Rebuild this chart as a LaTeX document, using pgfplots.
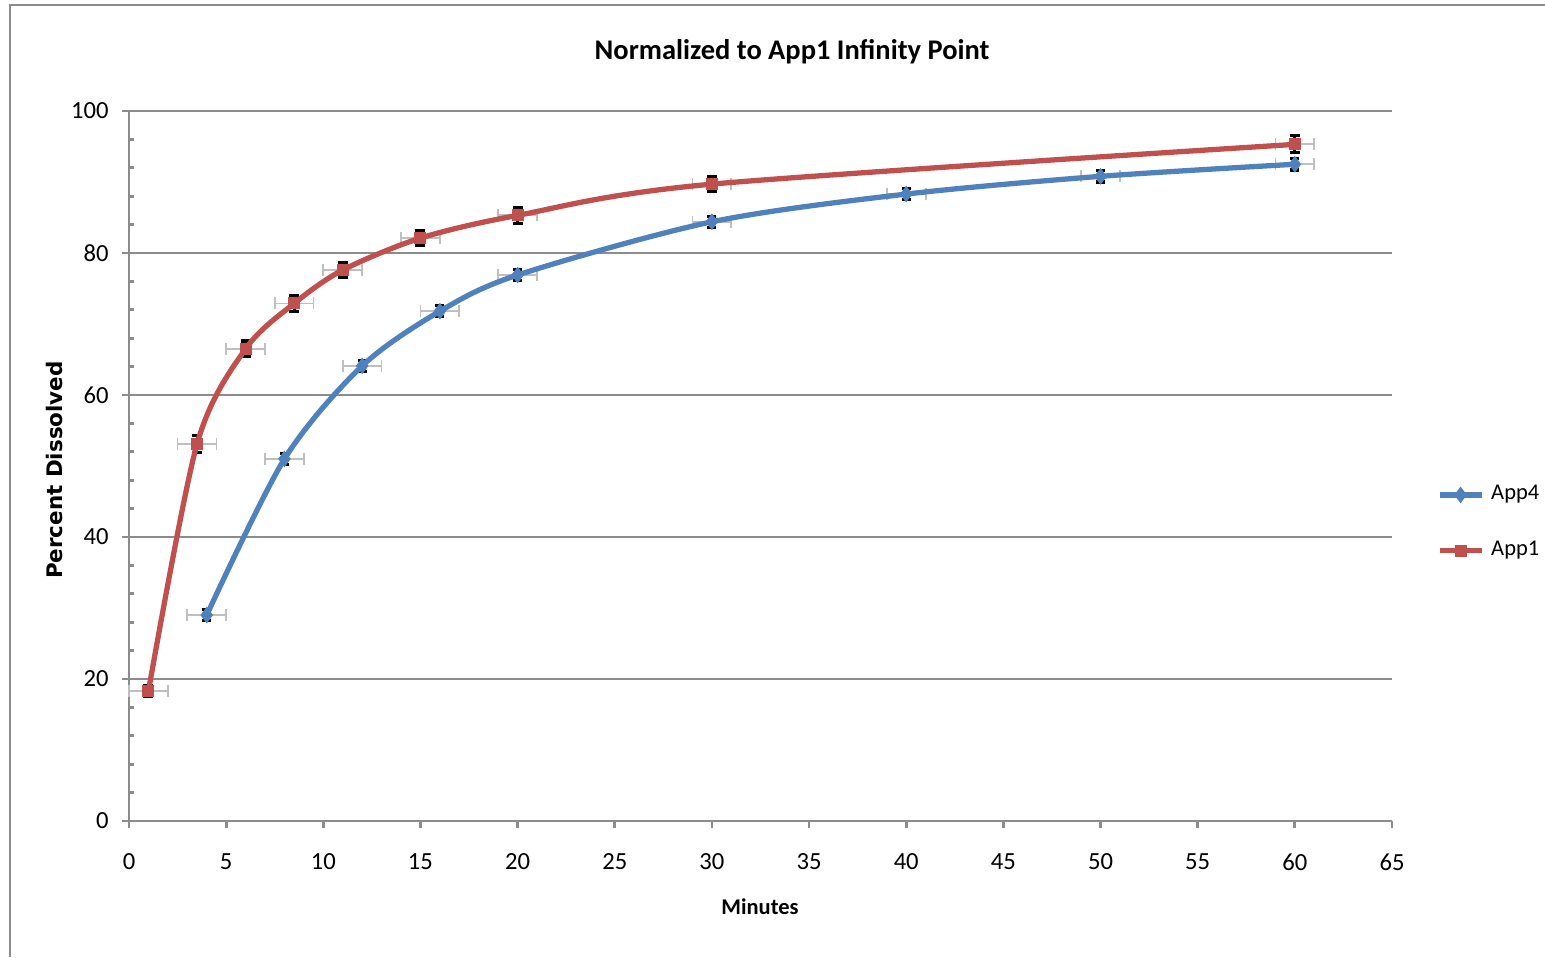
\documentclass[border=0pt]{standalone}
\usepackage{pgfplots}
\pgfplotsset{compat=1.18}
\usepackage{pgfplotstable}
\usepackage{fontspec}
\setmainfont{Carlito}
\newfontfamily\djv{DejaVu Sans}
\definecolor{xred}{HTML}{C0504D}
\definecolor{xblue}{HTML}{4F81BD}
\definecolor{gridc}{HTML}{8C8C8C}
\definecolor{errc}{HTML}{BFBFBF}

\pgfplotstableread{
x y ey ex
1 18.3 0.8 1
3.5 53.1 1.2 1
6 66.5 1.1 1
8.5 72.9 1.1 1
11 77.6 1.1 1
15 82.1 1.1 1
20 85.3 1.1 1
30 89.7 1.0 1
60 95.3 1.2 1
}\appone

\pgfplotstableread{
x y ey ex
4 29.0 0.8 1
8 51.0 0.8 1
12 64.1 0.8 1
16 71.8 0.8 1
20 76.9 0.8 1
30 84.4 0.8 1
40 88.3 0.8 1
50 90.8 0.8 1
60 92.5 0.8 1
}\appfour

\begin{document}
\begin{tikzpicture}
\path[use as bounding box] (0,0) rectangle (15.45,9.57);
\draw[gridc, line width=0.5pt] (0.10,0) -- (0.10,9.52) -- (15.45,9.52);
\begin{axis}[
 at={(1.29cm,1.36cm)}, anchor=south west, scale only axis,
 width=12.63cm, height=7.10cm,
 xmin=0, xmax=65, ymin=0, ymax=100,
 xtick={0,5,...,65}, ytick={0,20,...,100},
 minor y tick num=4,
 axis lines=left, axis line style={-, gridc, line width=0.8pt},
 tick align=outside, major tick length=0.07cm, minor tick length=0.045cm,
 tick style={gridc, line width=0.8pt},
 minor tick style={xshift=0.045cm},
 ymajorgrids, major grid style={gridc, line width=0.8pt},
 clip=false,
 tick label style={font=\fontsize{7}{8}\selectfont},
 /pgf/number format/assume math mode=true,
 xticklabel style={yshift=-0.13cm},
 yticklabel style={xshift=-0.01cm},
 legend style={at={(1.035,0.42)}, anchor=west, draw=none, fill=none,
   font=\fontsize{6.4}{7.5}\selectfont, row sep=0.22cm, inner sep=0pt},
 legend cell align=left,
 legend image code/.code={\draw[mark repeat=2,mark phase=2,#1] plot coordinates {(0cm,0cm)(0.21cm,0cm)(0.42cm,0cm)};},
]
% horizontal error bars (grey)
\addplot[forget plot, draw=none, mark=none,
  error bars/.cd, x dir=both, x explicit,
  error bar style={draw=errc, line width=0.5pt},
  error mark options={rotate=90, draw=errc, mark size=0.06cm, line width=0.5pt}]
  table[x=x, y=y, x error=ex] \appfour;
\addplot[forget plot, draw=none, mark=none,
  error bars/.cd, x dir=both, x explicit,
  error bar style={draw=errc, line width=0.5pt},
  error mark options={rotate=90, draw=errc, mark size=0.06cm, line width=0.5pt}]
  table[x=x, y=y, x error=ex] \appone;
% vertical error bars (black)
\addplot[forget plot, draw=none, mark=none,
  error bars/.cd, y dir=both, y explicit,
  error bar style={draw=black, line width=0.8pt},
  error mark options={rotate=90, draw=black, mark size=0.045cm, line width=0.9pt}]
  table[x=x, y=y, y error=ey] \appfour;
\addplot[forget plot, draw=none, mark=none,
  error bars/.cd, y dir=both, y explicit,
  error bar style={draw=black, line width=0.8pt},
  error mark options={rotate=90, draw=black, mark size=0.05cm, line width=0.9pt}]
  table[x=x, y=y, y error=ey] \appone;
% curves
\addplot[xblue, line width=1.5pt, smooth, mark=diamond*, mark size=0.075cm,
  mark options={fill=xblue, draw=xblue, line width=0.3pt}]
  table[x=x, y=y] \appfour;
\addlegendentry{App4}
\addplot[xred, line width=1.5pt, smooth, mark=square*, mark size=0.055cm,
  mark options={fill=xred, draw=xred, line width=0.3pt}]
  table[x=x, y=y] \appone;
\addlegendentry{App1}
\end{axis}
\node[font=\bfseries\fontsize{8.1}{9.5}\selectfont] at (7.92,9.05) {Normalized to App1 Infinity Point};
\node[font=\bfseries\fontsize{6.4}{7.5}\selectfont] at (7.60,0.50) {Minutes};
\node[rotate=90, font=\djv\bfseries\fontsize{6.1}{7}\selectfont] at (0.55,4.87) {Percent Dissolved};
\end{tikzpicture}
\end{document}
